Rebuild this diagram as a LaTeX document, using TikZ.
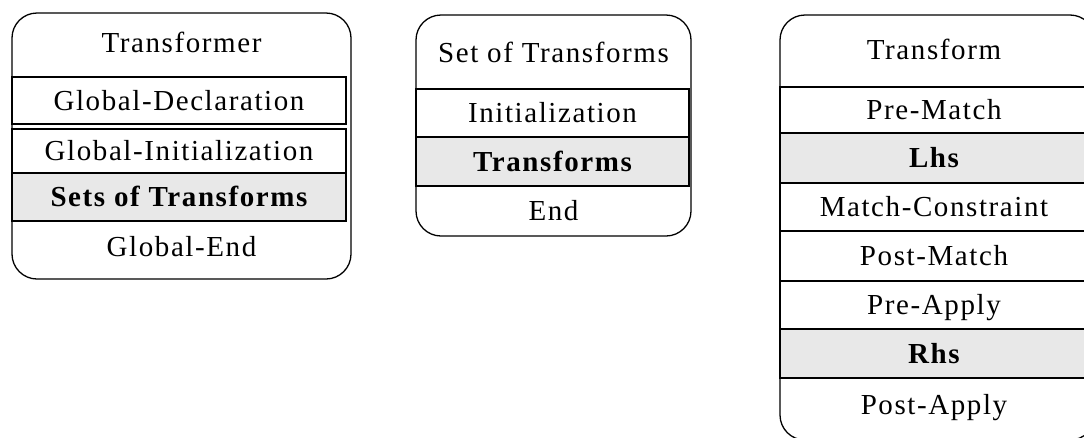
\documentclass[tikz,border=0pt]{standalone}
\usepackage{fontspec}
\setmainfont{Liberation Serif}[LetterSpace=5.5]
\definecolor{rowgray}{HTML}{E8E8E8}
\tikzset{
  x=1pt, y=-1pt,
  frame/.style={draw=black, line width=1.3pt, rounded corners=25pt, fill=white,
    inner sep=0pt, outer sep=0pt},
  row/.style={draw=black, line width=1.3pt, fill=white, inner sep=0pt, outer sep=0pt},
  keyrow/.style={row, fill=rowgray},
  label/.style={inner sep=0pt, font=\fontsize{29}{30}\selectfont, text height=19pt, text depth=6pt},
  keylabel/.style={label, font=\fontsize{29}{30}\selectfont\bfseries},
  heavy/.style={line width=2.6pt}
}
\begin{document}
\begin{tikzpicture}
\useasboundingbox (0,0) rectangle (1084,437);
\clip (0,0) rectangle (1084,437);
\fill[white] (0,0) rectangle (1084,437);

% Transformer
\node[frame, minimum width=339pt, minimum height=266pt] (tf) at (181.5,146) {};
\node[row, minimum width=334pt, minimum height=47pt] (gdecl) at (179,100.5) {};
\node[row, minimum width=334pt, minimum height=44pt] (ginit) at (179,151) {};
\node[keyrow, minimum width=334pt, minimum height=48pt] (sets) at (179,197) {};
\node[label] (tftitle) at (181.5,46) {Transformer};
\node[label] at (179,103.5) {Global-Declaration};
\node[label] at (179,154) {Global-Initialization};
\node[keylabel] at (179,200) {Sets of Transforms};
\node[label] (gend) at (181.5,250) {Global-End};

% Set of Transforms
\node[frame, minimum width=275pt, minimum height=221pt] (st) at (553.5,125.5) {};
\node[row, minimum width=273pt, minimum height=48pt] (init) at (552.5,113) {};
\node[keyrow, minimum width=273pt, minimum height=49pt] (trans) at (552.5,161.5) {};
\draw[heavy] (init.north east) -- (trans.south east);
\node[label] (sttitle) at (553.5,56) {Set of Transforms};
\node[label] at (552.5,116) {Initialization};
\node[keylabel] at (552.5,164.5) {Transforms};
\node[label] (stend) at (553.5,214) {End};

% Transform
\node[frame, minimum width=315pt, minimum height=425pt] (tr) at (937.5,227.5) {};
\node[row, minimum width=330pt, minimum height=46pt] (prem) at (945,110) {};
\node[keyrow, minimum width=330pt, minimum height=50pt] (lhs) at (945,158) {};
\node[row, minimum width=330pt, minimum height=48pt] (mc) at (945,207) {};
\node[row, minimum width=330pt, minimum height=50pt] (postm) at (945,256) {};
\node[row, minimum width=330pt, minimum height=48pt] (prea) at (945,305) {};
\node[keyrow, minimum width=330pt, minimum height=49pt] (rhs) at (945,353.5) {};
\draw[heavy] (lhs.north west) -- (lhs.north east);
\draw[heavy] (lhs.south west) -- (lhs.south east);
\draw[heavy] (mc.south west) -- (mc.south east);
\draw[heavy] (rhs.north west) -- (rhs.north east);
\node[label] (trtitle) at (934,53) {Transform};
\node[label] at (934,113) {Pre-Match};
\node[keylabel] at (934,161) {Lhs};
\node[label] at (934,210) {Match-Constraint};
\node[label] at (934,259) {Post-Match};
\node[label] at (934,308) {Pre-Apply};
\node[keylabel] at (934,356.5) {Rhs};
\node[label] (postapply) at (934,408) {Post-Apply};
\end{tikzpicture}
\end{document}
